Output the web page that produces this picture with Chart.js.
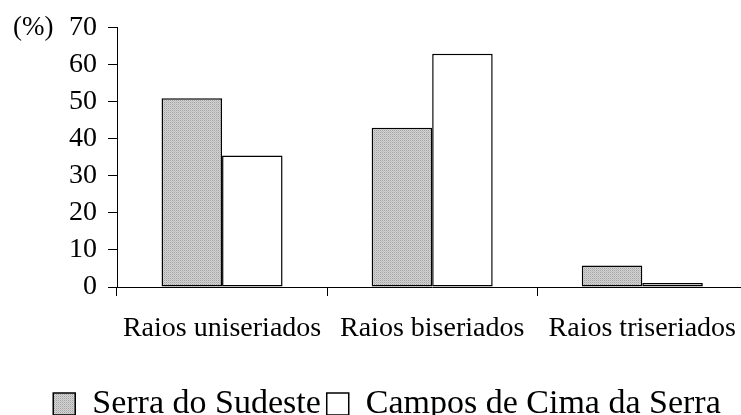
<!DOCTYPE html>
<html>
<head>
<meta charset="utf-8">
<script src="https://cdn.jsdelivr.net/npm/chart.js@4.4.1/dist/chart.umd.min.js"></script>
<style>
  html, body { margin: 0; padding: 0; background: #fff; overflow: hidden; }
  /* canvas runs a little past the window, like the cropped original */
  #wrap { position: relative; width: 752px; height: 431px; }
</style>
</head>
<body>
<div id="wrap"><canvas id="chart"></canvas></div>
<script>
// Chart data
const categories = ["Raios uniseriados", "Raios biseriados", "Raios triseriados"];
const seriesNames = ["Serra do Sudeste", "Campos de Cima da Serra"];
const serraSudeste = [51, 43, 5.8];
const camposCima = [35.5, 63, 1.1];
const yTicks = [0, 10, 20, 30, 40, 50, 60, 70];

const serif = "'Liberation Serif', 'Times New Roman', serif";

// Dotted gray fill like the original
const makePattern = () => {
  const c = document.createElement("canvas");
  c.width = 2;
  c.height = 2;
  const g = c.getContext("2d");
  g.fillStyle = "#d4d4d4";
  g.fillRect(0, 0, 2, 2);
  g.fillStyle = "#a2a2a2";
  g.fillRect(0, 0, 1, 1);
  g.fillStyle = "#bdbdbd";
  g.fillRect(1, 1, 1, 1);
  return g.createPattern(c, "repeat");
};
const grayFill = makePattern();

// Draws the "(%)" unit beside the top tick
const unitLabel = {
  id: "unitLabel",
  afterDraw(chart) {
    const y = chart.scales.y.getPixelForValue(yTicks[yTicks.length - 1]);
    const ctx = chart.ctx;
    ctx.save();
    ctx.font = "27px " + serif;
    ctx.fillStyle = "#000";
    ctx.textAlign = "left";
    ctx.textBaseline = "middle";
    ctx.fillText("(%)", 13, y);
    ctx.restore();
  }
};

const chart = new Chart(document.getElementById("chart"), {
  type: "bar",
  data: {
    labels: categories,
    datasets: [{
      label: seriesNames[0],
      data: serraSudeste,
      backgroundColor: grayFill,
      borderColor: "#000",
      borderWidth: 1.5,
      borderSkipped: false
    }, {
      label: seriesNames[1],
      data: camposCima,
      backgroundColor: "#fff",
      borderColor: "#000",
      borderWidth: 1.5,
      borderSkipped: false
    }]
  },
  options: {
    responsive: true,
    maintainAspectRatio: false,
    animation: false,
    datasets: {
      bar: { categoryPercentage: 0.576, barPercentage: 1 }
    },
    layout: { padding: { top: 22, left: 22, right: 0, bottom: 0 } },
    scales: {
      x: {
        grid: { drawOnChartArea: false, drawTicks: true, tickLength: 9, color: "#000", offset: true },
        border: { display: true, color: "#000", width: 1 },
        ticks: { color: "#000", font: { family: serif, size: 28 }, padding: 16, maxRotation: 0 },
        afterFit: (s) => { s.height = 94; }
      },
      y: {
        min: 0,
        max: 70,
        grid: { drawOnChartArea: false, drawTicks: true, tickLength: 9, color: "#000" },
        border: { display: true, color: "#000", width: 1 },
        ticks: { stepSize: 10, color: "#000", font: { family: serif, size: 28 }, padding: 11 },
        afterFit: (s) => { s.width = 95; }
      }
    },
    plugins: {
      legend: {
        position: "bottom",
        labels: {
          color: "#000",
          font: { family: serif, size: 34 },
          boxWidth: 22,
          boxHeight: 22,
          padding: 6
        }
      },
      tooltip: { enabled: false }
    }
  },
  plugins: [unitLabel]
});
</script>
</body>
</html>
